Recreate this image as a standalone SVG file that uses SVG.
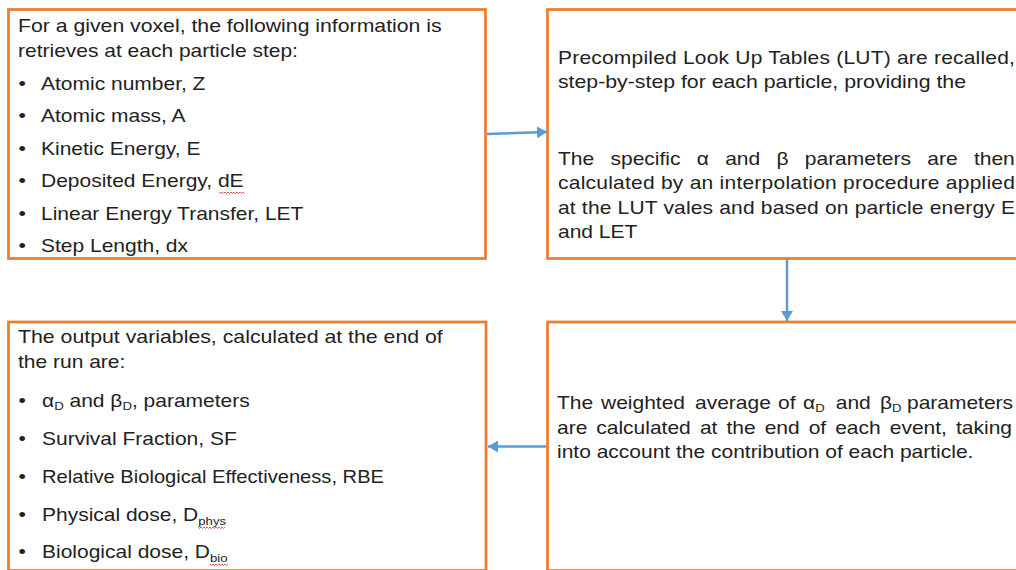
<svg xmlns="http://www.w3.org/2000/svg" width="1016" height="570" viewBox="0 0 1016 570">
<style>
.box{fill:#ffffff;stroke:#ED7D31;stroke-width:2.75}
.t{font-family:"Liberation Sans",Arial,sans-serif;font-size:17.5px;fill:#222222}
.sub{font-size:11px}
.conn{stroke:#5B9BD5;stroke-width:2.5;fill:none}
.sq{stroke:#E03030;stroke-width:0.8;fill:none}
</style>
<defs>
<marker id="arrow" viewBox="0 0 10 12" refX="10" refY="6" markerWidth="10" markerHeight="12" markerUnits="userSpaceOnUse" orient="auto" preserveAspectRatio="none">
<path d="M0,0 L10,6 L0,12 z" fill="#5B9BD5"/>
</marker>
</defs>
<rect width="1016" height="570" fill="#ffffff"/>

<g id="node-input">
<rect class="box" x="8.5" y="9.5" width="477" height="249"/>
<g transform="scale(1.2 1)">
<text class="t" x="15" y="32" textLength="353" lengthAdjust="spacingAndGlyphs">For a given voxel, the following information is</text>
<text class="t" x="15" y="57">retrieves at each particle step:</text>
<text class="t" x="15.5" y="90">•</text><text class="t" x="34.2" y="90">Atomic number, Z</text>
<text class="t" x="15.5" y="122.5">•</text><text class="t" x="34.2" y="122.5">Atomic mass, A</text>
<text class="t" x="15.5" y="155">•</text><text class="t" x="34.2" y="155">Kinetic Energy, E</text>
<text class="t" x="15.5" y="187.5">•</text><text class="t" x="34.2" y="187.5">Deposited Energy, dE</text>
<text class="t" x="15.5" y="220">•</text><text class="t" x="34.2" y="220">Linear Energy Transfer, LET</text>
<text class="t" x="15.5" y="252.5">•</text><text class="t" x="34.2" y="252.5">Step Length, dx</text>
</g>
<path class="sq" d="M219,192 l1.5,1.5 l1.5,-1.5 l1.5,1.5 l1.5,-1.5 l1.5,1.5 l1.5,-1.5 l1.5,1.5 l1.5,-1.5 l1.5,1.5 l1.5,-1.5 l1.5,1.5 l1.5,-1.5 l1.5,1.5 l1.5,-1.5 l1.5,1.5 l1.5,-1.5 l1.5,1.5"/>
</g>

<g id="node-lut">
<rect class="box" x="547.5" y="9.5" width="480" height="249"/>
<g transform="scale(1.2 1)">
<text class="t" x="465" y="64" textLength="380.8" lengthAdjust="spacing">Precompiled Look Up Tables (LUT) are recalled,</text>
<text class="t" x="465" y="88.5" textLength="340" lengthAdjust="spacingAndGlyphs">step-by-step for each particle, providing the</text>
<text class="t" y="165"><tspan x="465">The</tspan><tspan x="508.75">specific</tspan><tspan x="580.67">α</tspan><tspan x="604.33">and</tspan><tspan x="647.08">β</tspan><tspan x="670.67">parameters</tspan><tspan x="772.75">are</tspan><tspan x="811.58">then</tspan></text>
<text class="t" x="465" y="189.5" textLength="380.8" lengthAdjust="spacing">calculated by an interpolation procedure applied</text>
<text class="t" x="465" y="214" textLength="380.8" lengthAdjust="spacing">at the LUT vales and based on particle energy E</text>
<text class="t" x="465" y="238.5">and LET</text>
</g>
</g>

<g id="node-output">
<rect class="box" x="8.5" y="322" width="477.5" height="248.5"/>
<g transform="scale(1.2 1)">
<text class="t" x="15" y="343" textLength="354" lengthAdjust="spacingAndGlyphs">The output variables, calculated at the end of</text>
<text class="t" x="15" y="368">the run are:</text>
<text class="t" x="15.5" y="407">•</text><text class="t" x="35" y="407">α<tspan class="sub" dy="3">D</tspan><tspan dy="-3"> and β</tspan><tspan class="sub" dy="3">D</tspan><tspan dy="-3">, parameters</tspan></text>
<text class="t" x="15.5" y="445">•</text><text class="t" x="35" y="445">Survival Fraction, SF</text>
<text class="t" x="15.5" y="483">•</text><text class="t" x="35" y="483" textLength="285" lengthAdjust="spacingAndGlyphs">Relative Biological Effectiveness, RBE</text>
<text class="t" x="15.5" y="521">•</text><text class="t" x="35" y="521">Physical dose, D<tspan class="sub" dy="4">phys</tspan></text>
<text class="t" x="15.5" y="558">•</text><text class="t" x="35" y="558">Biological dose, D<tspan class="sub" dy="4">bio</tspan></text>
</g>
<path class="sq" d="M198,527 l1.5,1.5 l1.5,-1.5 l1.5,1.5 l1.5,-1.5 l1.5,1.5 l1.5,-1.5 l1.5,1.5 l1.5,-1.5 l1.5,1.5 l1.5,-1.5 l1.5,1.5 l1.5,-1.5 l1.5,1.5 l1.5,-1.5 l1.5,1.5 l1.5,-1.5 l1.5,1.5 l1.5,-1.5"/>
<path class="sq" d="M210,564 l1.5,1.5 l1.5,-1.5 l1.5,1.5 l1.5,-1.5 l1.5,1.5 l1.5,-1.5 l1.5,1.5 l1.5,-1.5 l1.5,1.5 l1.5,-1.5 l1.5,1.5 l1.5,-1.5"/>
</g>

<g id="node-average">
<rect class="box" x="547.5" y="322" width="480" height="248.5"/>
<g transform="scale(1.2 1)">
<text class="t" y="409.5"><tspan x="464.17">The</tspan><tspan x="500.83">weighted</tspan><tspan x="579.17">average</tspan><tspan x="648.33">of</tspan><tspan x="669.17">α</tspan><tspan class="sub" dy="3">D</tspan><tspan x="696.5" dy="-3">and</tspan><tspan x="733.33">β</tspan><tspan class="sub" dy="3">D</tspan><tspan x="755.83" dy="-3">parameters</tspan></text>
<text class="t" y="434"><tspan x="464.17">are</tspan><tspan x="496.92">calculated</tspan><tspan x="583.25">at</tspan><tspan x="605.33">the</tspan><tspan x="637.25">end</tspan><tspan x="673.92">of</tspan><tspan x="696">each</tspan><tspan x="741.5">event,</tspan><tspan x="796.67">taking</tspan></text>
<text class="t" x="464.17" y="458.5">into account the contribution of each particle.</text>
</g>
</g>

<g id="connectors">
<line class="conn" x1="487" y1="134" x2="547" y2="132" marker-end="url(#arrow)"/>
<line class="conn" x1="787" y1="259" x2="787" y2="321" marker-end="url(#arrow)"/>
<line class="conn" x1="546" y1="446.5" x2="488" y2="446.5" marker-end="url(#arrow)"/>
</g>
</svg>
